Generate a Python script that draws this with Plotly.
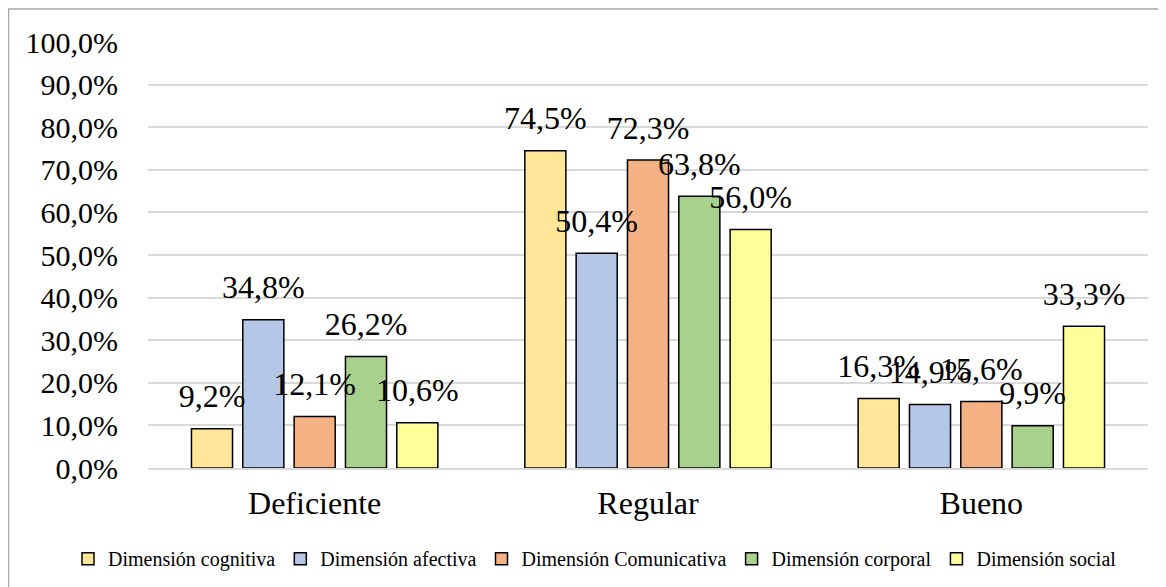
import plotly.graph_objects as go

categories = ['Deficiente', 'Regular', 'Bueno']
series_names = ['Dimensión cognitiva', 'Dimensión afectiva', 'Dimensión Comunicativa',
                'Dimensión corporal', 'Dimensión social']
cognitiva = [9.2, 74.5, 16.3]
afectiva = [34.8, 50.4, 14.9]
comunicativa = [12.1, 72.3, 15.6]
corporal = [26.2, 63.8, 9.9]
social = [10.6, 56.0, 33.3]
colors = ['#FFE699', '#B4C7E7', '#F4B183', '#A9D18E', '#FFFF99']

FONT = 'Liberation Serif'
# page body has an 8px margin, so the figure is a bit smaller than the window
W, H = 1150, 579
L, R, T, B = 140, 10, 34, 118

fig = go.Figure()
all_vals = [cognitiva, afectiva, comunicativa, corporal, social]
for name, vals, col in zip(series_names, all_vals, colors):
    fig.add_trace(go.Bar(
        x=categories, y=vals, name=name,
        marker=dict(color=col, line=dict(color='#000000', width=1.5)),
        hovertemplate='%{x}: %{y:.1f}%<extra>' + name + '</extra>',
    ))

# data labels: grouped scatter text sitting a bit above each bar (invisible marker gives the gap)
for name, vals in zip(series_names, all_vals):
    fig.add_trace(go.Scatter(
        x=categories, y=vals, mode='markers+text', showlegend=False, hoverinfo='skip',
        marker=dict(size=20, opacity=0),
        texttemplate='%{y:.1f}%', textposition='top center',
        textfont=dict(family=FONT, size=32, color='#000000'),
        cliponaxis=False,
    ))

# outer chart frame (right/bottom edges run off the canvas)
pw, ph = W - L - R, H - T - B
fig.add_shape(type='rect', xref='paper', yref='paper',
              x0=(0.5 - L) / pw, x1=(W + 20 - L) / pw,
              y0=-(B + 20) / ph, y1=(ph + T - 1) / ph,
              line=dict(color='#A6A6A6', width=1.5), layer='below')

fig.update_layout(
    width=W, height=H,
    margin=dict(l=L, r=R, t=T, b=B),
    plot_bgcolor='white', paper_bgcolor='white',
    barmode='group', bargap=0.23, bargroupgap=0.2,
    scattermode='group', scattergap=0.23,
    separators=',.',
    font=dict(family=FONT, color='#000000'),
    legend=dict(orientation='h', x=-0.08, xanchor='left', y=-0.21, yanchor='middle',
                font=dict(family=FONT, size=20), itemwidth=30, tracegroupgap=0),
    xaxis=dict(tickfont=dict(size=32), showline=True, linecolor='#D9D9D9', linewidth=1.5,
               ticks='', ticklabelstandoff=6),
    yaxis=dict(range=[0, 100], dtick=10, tickformat='.1f', ticksuffix='%',
               tickfont=dict(size=30), gridcolor='#D9D9D9', gridwidth=1.5,
               zeroline=False, ticklabelstandoff=29),
)

fig.write_html('out.html')
